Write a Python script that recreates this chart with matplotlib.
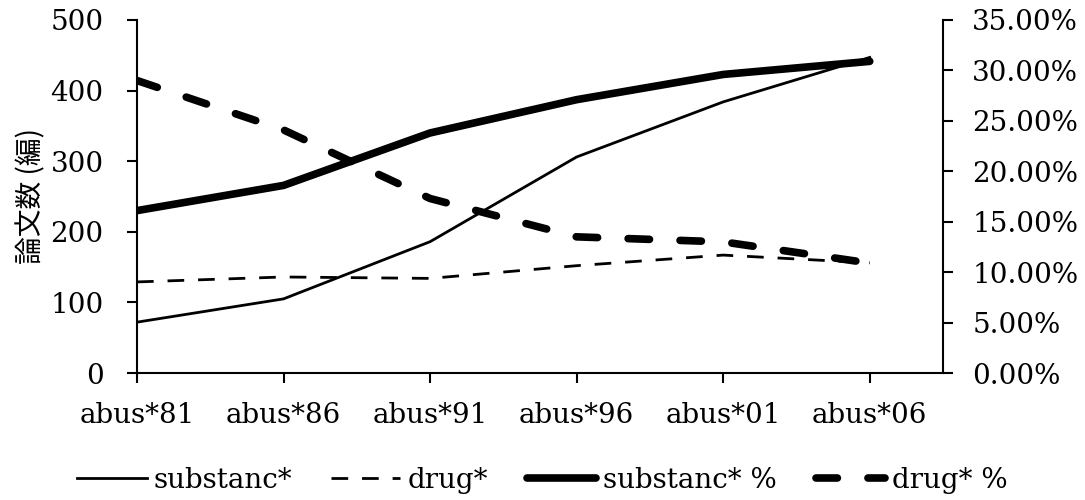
import matplotlib
matplotlib.use("Agg")
import matplotlib.pyplot as plt
from matplotlib.ticker import FuncFormatter

# data
categories = ["abus*81", "abus*86", "abus*91", "abus*96", "abus*01", "abus*06"]
substanc_count = [72, 105, 186, 306, 384, 447]
drug_count = [129, 136, 134, 152, 167, 156]
substanc_pct = [16.1, 18.6, 23.8, 27.1, 29.6, 30.9]
drug_pct = [29.0, 24.1, 17.3, 13.5, 13.0, 10.9]

plt.rcParams["font.family"] = ["DejaVu Serif"]
plt.rcParams["font.size"] = 20

fig = plt.figure(figsize=(10.85, 5.0), dpi=100)
ax = fig.add_axes([137 / 1085, 1 - 373 / 500, 806 / 1085, 353 / 500])
ax2 = ax.twinx()

x = list(range(len(categories)))
l1, = ax.plot(x, substanc_count, color="black", lw=2.0, label="substanc*")
l2, = ax.plot(x, drug_count, color="black", lw=2.0, ls=(0, (6, 5)), label="drug*")
l3, = ax2.plot(x, substanc_pct, color="black", lw=5.5, solid_capstyle="round",
               label="substanc* %")
l4, = ax2.plot(x, drug_pct, color="black", lw=5.5, ls=(0, (2.8, 4.0)),
               dash_capstyle="round", label="drug* %")

ax.set_xlim(0, 5.5)
ax.set_ylim(0, 500)
ax2.set_ylim(0, 35)
ax.set_xticks(x)
ax.set_xticklabels(categories)
ax.set_yticks(range(0, 501, 100))
ax2.set_yticks(range(0, 36, 5))
ax2.yaxis.set_major_formatter(FuncFormatter(lambda v, p: f"{v:.2f}%"))

for a in (ax, ax2):
    a.spines["top"].set_visible(False)
    a.tick_params(direction="out", length=7, width=1.5)
ax.tick_params(axis="y", pad=17)
ax.tick_params(axis="x", pad=14)
ax2.tick_params(axis="y", pad=14)
ax.spines["right"].set_visible(False)
ax2.spines["left"].set_visible(False)
ax2.spines["bottom"].set_visible(False)
ax.spines["left"].set_linewidth(1.5)
ax.spines["bottom"].set_linewidth(1.5)
ax2.spines["right"].set_linewidth(1.5)

ax.set_ylabel("論文数 (編)", family=["Noto Sans CJK JP", "DejaVu Sans"],
              fontsize=20, labelpad=3)

fig.legend(handles=[l1, l2, l3, l4], loc="center", bbox_to_anchor=(0.5, 0.04),
           ncol=4, frameon=False, handlelength=2.5, handletextpad=0.25,
           columnspacing=1.4, fontsize=20)

fig.savefig("out.png", dpi=100)
